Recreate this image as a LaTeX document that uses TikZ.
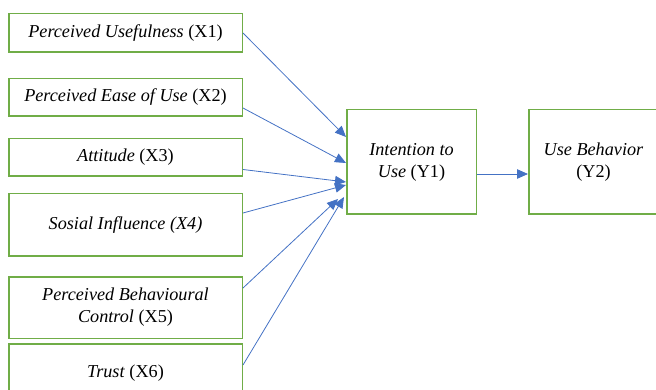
\documentclass[tikz,border=0pt]{standalone}
\usepackage{fontspec}
\setmainfont{Liberation Serif}
\usetikzlibrary{arrows.meta}
\definecolor{boxgreen}{RGB}{112,173,71}
\definecolor{linkblue}{RGB}{68,114,196}

\begin{document}
\begin{tikzpicture}[x=1pt,y=-1pt,
  var/.style={draw=boxgreen,line width=1.5pt,fill=white,align=center,inner sep=2pt,
    font=\fontsize{18.2}{22}\selectfont},
  leftvar/.style={var,minimum width=233.5pt},
  link/.style={draw=linkblue,line width=.8pt,-{Triangle[length=11pt,width=9.5pt]}}]
\useasboundingbox (0,0) rectangle (656,390);
\clip (0,0) rectangle (656,390);
\node[leftvar,minimum height=38.5pt] (x1) at (125.5,33) {\textit{Perceived Usefulness} (X1)};
\node[leftvar,minimum height=37.5pt] (x2) at (125.5,97.5) {\textit{Perceived Ease of Use} (X2)};
\node[leftvar,minimum height=37.5pt] (x3) at (125.5,157.5) {\textit{Attitude} (X3)};
\node[leftvar,minimum height=62.5pt] (x4) at (125.5,225) {\textit{Sosial Influence (X4)}};
\node[leftvar,minimum height=61.5pt] (x5) at (125.5,307.5) {\textit{Perceived Behavioural}\\\textit{Control} (X5)};
\node[leftvar,minimum height=58.5pt] (x6) at (125.5,373) {\textit{Trust} (X6)};
\node[var,minimum width=129.5pt,minimum height=104.5pt] (y1) at (411.5,162) {\textit{Intention to}\\\textit{Use} (Y1)};
\node[var,minimum width=129.5pt,minimum height=104.5pt] (y2) at (593.5,162) {\textit{Use Behavior}\\(Y2)};
\draw[link] (x1.east) -- ([yshift=25pt]y1.west);
\draw[link] ([yshift=-10.5pt]x2.east) -- ([yshift=-1pt]y1.west);
\draw[link] ([yshift=-12pt]x3.east) -- ([yshift=-20pt]y1.west);
\draw[link] ([yshift=12pt]x4.east) -- ([yshift=-23pt]y1.west);
\draw[link] ([yshift=19.5pt]x5.east) -- ([xshift=-8pt,yshift=-37pt]y1.west);
\draw[link] ([yshift=8pt]x6.east) -- ([xshift=-2pt,yshift=-35pt]y1.west);
\draw[link] ([yshift=-12pt]y1.east) -- ([yshift=-12pt]y2.west);
\end{tikzpicture}
\end{document}
